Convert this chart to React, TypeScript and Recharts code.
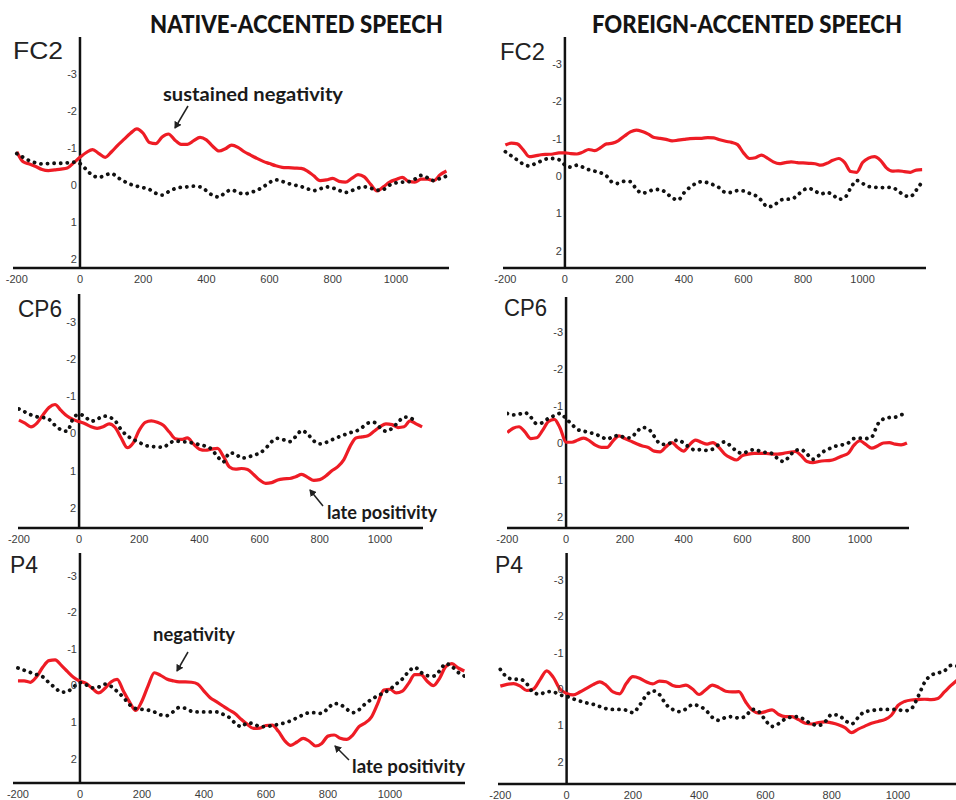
import { LineChart, Line, XAxis, YAxis, ReferenceLine, ReferenceDot } from "recharts";

// time points (ms), 20 ms apart
const times = [
    -200, -180, -160, -140, -120, -100, -80, -60, -40, -20,
    0, 20, 40, 60, 80, 100, 120, 140, 160, 180,
    200, 220, 240, 260, 280, 300, 320, 340, 360, 380,
    400, 420, 440, 460, 480, 500, 520, 540, 560, 580,
    600, 620, 640, 660, 680, 700, 720, 740, 760, 780,
    800, 820, 840, 860, 880, 900, 920, 940, 960, 980,
    1000, 1020, 1040, 1060, 1080, 1100, 1120, 1140, 1160, 1180,
    1200, 1220, 1240,
];

const xTicks = [-200, 0, 200, 400, 600, 800, 1000];
const yTicks = [-3, -2, -1, 0, 1, 2];

// FC2, native-accented
const fc2NativeRed = [
    -0.9, -0.63, -0.57, -0.5, -0.42, -0.39, -0.41, -0.43, -0.46, -0.6,
    -0.75, -0.88, -0.96, -0.85, -0.75, -0.9, -1.08, -1.24, -1.4, -1.52,
    -1.4, -1.15, -1.12, -1.3, -1.38, -1.22, -1.1, -1.1, -1.2, -1.29,
    -1.22, -1.05, -0.92, -0.98, -1.08, -1.02, -0.9, -0.81, -0.72, -0.64,
    -0.58, -0.52, -0.48, -0.47, -0.46, -0.45, -0.38, -0.25, -0.12, -0.14,
    -0.18, -0.1, -0.08, -0.18, -0.28, -0.22, -0.02, 0.16, 0.05, -0.08,
    -0.15, -0.21, -0.1, -0.08, -0.16, -0.16, -0.12, -0.28, -0.38,
];
const fc2NativeBlack = [
    -0.85, -0.75, -0.66, -0.6, -0.57, -0.58, -0.59, -0.59, -0.6, -0.62,
    -0.58, -0.42, -0.26, -0.21, -0.27, -0.31, -0.2, -0.1, -0.02, 0.03,
    0.07, 0.12, 0.22, 0.27, 0.18, 0.1, 0.06, 0.05, 0.03, 0.05,
    0.15, 0.28, 0.32, 0.2, 0.13, 0.2, 0.24, 0.2, 0.14, 0.05,
    -0.07, -0.14, -0.1, -0.04, 0.0, 0.04, 0.1, 0.15, 0.1, 0.05,
    0.08, 0.14, 0.2, 0.15, 0.08, 0.05, 0.08, 0.14, 0.12, 0.0,
    -0.06, -0.08, -0.09, -0.16, -0.26, -0.2, -0.12, -0.18, -0.24,
];

// FC2, foreign-accented
const fc2ForeignRed = [
    -0.83, -0.88, -0.86, -0.7, -0.52, -0.54, -0.57, -0.58, -0.59, -0.62,
    -0.62, -0.6, -0.59, -0.64, -0.71, -0.68, -0.76, -0.86, -0.88, -0.95,
    -1.07, -1.18, -1.23, -1.19, -1.12, -1.03, -1.01, -0.98, -0.94, -0.96,
    -0.98, -1.0, -1.01, -1.01, -1.03, -1.02, -0.97, -0.93, -0.9, -0.84,
    -0.62, -0.47, -0.49, -0.56, -0.48, -0.38, -0.33, -0.36, -0.38, -0.36,
    -0.35, -0.34, -0.33, -0.29, -0.34, -0.42, -0.47, -0.36, -0.12, -0.1,
    -0.36, -0.48, -0.52, -0.42, -0.22, -0.13, -0.14, -0.12, -0.1, -0.16,
    -0.17,
];
const fc2ForeignBlack = [
    -0.65, -0.54, -0.43, -0.32, -0.27, -0.33, -0.4, -0.46, -0.47, -0.44,
    -0.3, -0.24, -0.29, -0.24, -0.17, -0.13, -0.09, 0.0, 0.17, 0.2,
    0.14, 0.15, 0.35, 0.46, 0.42, 0.36, 0.36, 0.45, 0.58, 0.64,
    0.45, 0.3, 0.2, 0.15, 0.18, 0.24, 0.32, 0.44, 0.44, 0.39,
    0.4, 0.46, 0.52, 0.65, 0.82, 0.8, 0.66, 0.62, 0.62, 0.52,
    0.38, 0.33, 0.4, 0.48, 0.44, 0.5, 0.62, 0.58, 0.32, 0.12,
    0.2, 0.28, 0.3, 0.31, 0.3, 0.31, 0.4, 0.52, 0.55, 0.38,
    0.15,
];

// CP6, native-accented
const cp6NativeRed = [
    -0.36, -0.28, -0.18, -0.28, -0.5, -0.7, -0.78, -0.62, -0.47, -0.38,
    -0.32, -0.26, -0.18, -0.14, -0.18, -0.26, -0.16, 0.12, 0.38, 0.25,
    -0.09, -0.3, -0.34, -0.3, -0.22, -0.04, 0.14, 0.16, 0.12, 0.28,
    0.42, 0.45, 0.42, 0.4, 0.62, 0.9, 0.96, 0.94, 0.97, 1.1,
    1.25, 1.34, 1.32, 1.25, 1.22, 1.21, 1.16, 1.1, 1.18, 1.26,
    1.24, 1.14, 1.0, 0.89, 0.7, 0.36, 0.12, 0.09, 0.06, -0.06,
    -0.18, -0.26, -0.24, -0.16, -0.18, -0.34, -0.26, -0.18,
];
const cp6NativeBlack = [
    -0.66, -0.58, -0.5, -0.45, -0.43, -0.38, -0.22, -0.1, -0.06, -0.4,
    -0.52, -0.45, -0.33, -0.38, -0.47, -0.44, -0.34, -0.1, 0.06, 0.16,
    0.24, 0.32, 0.35, 0.36, 0.37, 0.26, 0.2, 0.22, 0.23, 0.26,
    0.3, 0.34, 0.42, 0.62, 0.76, 0.52, 0.55, 0.66, 0.64, 0.58,
    0.53, 0.4, 0.22, 0.13, 0.17, 0.22, 0.08, -0.08, 0.02, 0.2,
    0.28, 0.24, 0.17, 0.1, 0.04, -0.02, -0.06, -0.16, -0.28, -0.3,
    -0.16, -0.06, -0.14, -0.3, -0.44, -0.42, -0.3,
];

// CP6, foreign-accented
const cp6ForeignRed = [
    -0.28, -0.4, -0.44, -0.3, -0.12, -0.14, -0.34, -0.58, -0.64, -0.4,
    -0.02, -0.02, -0.08, -0.13, -0.06, 0.06, 0.12, 0.12, -0.06, -0.19,
    -0.12, -0.05, 0.02, 0.08, 0.12, 0.22, 0.24, 0.1, -0.01, 0.12,
    0.22, 0.05, -0.08, -0.02, 0.03, -0.01, 0.12, 0.3, 0.4, 0.46,
    0.34, 0.3, 0.28, 0.28, 0.28, 0.3, 0.3, 0.28, 0.25, 0.23,
    0.34, 0.5, 0.53, 0.5, 0.48, 0.47, 0.42, 0.35, 0.28, 0.06,
    -0.06, 0.04, 0.14, 0.08, 0.0, -0.01, 0.03, 0.05, 0.0,
];
const cp6ForeignBlack = [
    -0.8, -0.76, -0.78, -0.82, -0.7, -0.52, -0.55, -0.67, -0.74, -0.8,
    -0.66, -0.5, -0.36, -0.32, -0.28, -0.24, -0.17, -0.1, -0.18, -0.2,
    -0.15, -0.14, -0.3, -0.42, -0.38, -0.18, 0.02, 0.04, -0.02, -0.08,
    0.0, 0.12, 0.19, 0.18, 0.2, 0.16, 0.04, -0.03, 0.08, 0.22,
    0.28, 0.22, 0.18, 0.22, 0.26, 0.28, 0.42, 0.5, 0.36, 0.2,
    0.18, 0.3, 0.44, 0.34, 0.21, 0.14, 0.08, 0.05, 0.0, -0.12,
    -0.13, -0.12, -0.16, -0.5, -0.65, -0.69, -0.7, -0.76, -0.8,
];

// P4, native-accented
const p4NativeRed = [
    -0.13, -0.13, -0.09, -0.24, -0.5, -0.68, -0.7, -0.55, -0.38, -0.22,
    -0.12, -0.06, 0.08, 0.2, 0.08, -0.1, -0.17, 0.15, 0.45, 0.68,
    0.42, 0.0, -0.35, -0.28, -0.18, -0.13, -0.1, -0.1, -0.09, -0.04,
    0.15, 0.33, 0.44, 0.55, 0.66, 0.76, 0.92, 1.06, 1.17, 1.16,
    1.09, 1.08, 1.25, 1.5, 1.63, 1.54, 1.44, 1.52, 1.65, 1.58,
    1.38, 1.35, 1.44, 1.47, 1.35, 1.12, 1.02, 0.86, 0.5, 0.12,
    0.1, 0.2, 0.15, -0.06, -0.3, -0.3, -0.12, 0.0, -0.2, -0.52,
    -0.6, -0.48, -0.4,
];
const p4NativeBlack = [
    -0.48, -0.42, -0.36, -0.3, -0.24, -0.08, 0.06, 0.18, 0.16, 0.03,
    -0.08, -0.02, 0.06, 0.04, -0.04, 0.02, 0.16, 0.32, 0.52, 0.63,
    0.65, 0.67, 0.72, 0.8, 0.82, 0.72, 0.6, 0.62, 0.7, 0.72,
    0.72, 0.72, 0.72, 0.78, 0.86, 1.02, 1.12, 1.02, 1.04, 1.12,
    1.12, 1.09, 1.06, 1.02, 0.96, 0.88, 0.8, 0.74, 0.74, 0.76,
    0.62, 0.49, 0.52, 0.64, 0.74, 0.66, 0.5, 0.38, 0.28, 0.2,
    0.1, -0.04, -0.18, -0.38, -0.5, -0.36, -0.27, -0.26, -0.4, -0.6,
    -0.52, -0.36, -0.26,
];

// P4, foreign-accented
const p4ForeignRed = [
    -0.08, -0.13, -0.15, -0.08, 0.04, 0.0, -0.26, -0.5, -0.32, 0.0,
    0.12, 0.16, 0.08, -0.02, -0.12, -0.2, -0.1, 0.08, 0.13, -0.15,
    -0.34, -0.3, -0.2, -0.14, -0.22, -0.2, -0.1, -0.07, -0.11, 0.0,
    0.15, 0.02, -0.11, -0.04, 0.06, 0.08, 0.07, 0.35, 0.58, 0.66,
    0.62, 0.57, 0.7, 0.76, 0.76, 0.84, 0.94, 0.96, 0.92, 0.9,
    0.93, 0.98, 1.06, 1.2, 1.1, 1.02, 0.94, 0.89, 0.84, 0.72,
    0.45, 0.34, 0.3, 0.29, 0.28, 0.29, 0.26, 0.08, -0.1, -0.26,
];
const p4ForeignBlack = [
    -0.54, -0.33, -0.27, -0.27, -0.14, 0.1, 0.14, 0.07, 0.08, 0.16,
    0.2, 0.27, 0.33, 0.38, 0.42, 0.48, 0.54, 0.56, 0.56, 0.58,
    0.65, 0.45, 0.18, 0.05, 0.15, 0.42, 0.56, 0.62, 0.55, 0.43,
    0.47, 0.58, 0.78, 0.86, 0.78, 0.76, 0.8, 0.75, 0.56, 0.62,
    0.86, 1.03, 0.95, 0.82, 0.77, 0.76, 0.86, 0.96, 1.0, 0.9,
    0.7, 0.72, 0.86, 0.96, 0.78, 0.62, 0.6, 0.56, 0.56, 0.56,
    0.57, 0.6, 0.54, 0.22, -0.18, -0.38, -0.44, -0.5, -0.65, -0.63,
];

const RED = "#ee1c25";
const INK = "#111";
const TICK = "#3c3c3c";
const ML = 30;
const MT = 6;
const XH = 24;

// where each panel's axes sit on the page
const panels = [
    { key: "fc2n", red: fc2NativeRed, black: fc2NativeBlack, left: 13, right: 449, top: 37, bottom: 268, t: [-212, 1168], v: [-4.0, 2.24] },
    { key: "fc2f", red: fc2ForeignRed, black: fc2ForeignBlack, left: 503, right: 926, top: 37, bottom: 268, t: [-208, 1213], v: [-3.72, 2.46] },
    { key: "cp6n", red: cp6NativeRed, black: cp6NativeBlack, left: 18, right: 423, top: 294, bottom: 528, t: [-203, 1143], v: [-3.75, 2.54] },
    { key: "cp6f", red: cp6ForeignRed, black: cp6ForeignBlack, left: 507, right: 909, top: 297, bottom: 528, t: [-201, 1167], v: [-3.95, 2.3] },
    { key: "p4n", red: p4NativeRed, black: p4NativeBlack, left: 13, right: 465, top: 553, bottom: 783, t: [-216, 1242], v: [-3.62, 2.66] },
    { key: "p4f", red: p4ForeignRed, black: p4ForeignBlack, left: 498, right: 956, top: 553, bottom: 784, t: [-207, 1175], v: [-3.74, 2.61] },
];

type PanelDef = (typeof panels)[number];

function Panel({ p }: { p: PanelDef }) {
    const data = times.map((t, i) => ({ t, red: p.red[i], black: p.black[i] }));
    const width = p.right - p.left + ML * 2;
    const height = p.bottom - p.top + MT + XH;

    return (
        <div style={{ position: "absolute", left: p.left - ML, top: p.top - MT }}>
            <LineChart
                width={width}
                height={height}
                data={data}
                margin={{ top: MT, right: ML, bottom: 0, left: ML }}
            >
                <XAxis
                    dataKey="t"
                    type="number"
                    domain={p.t}
                    allowDataOverflow
                    ticks={xTicks}
                    interval={0}
                    tickLine={false}
                    axisLine={{ stroke: INK, strokeWidth: 2.5 }}
                    tick={{ fontSize: 11, fill: TICK, stroke: "none", fontFamily: "Liberation Sans, Arial, sans-serif" }}
                    tickMargin={1}
                    height={XH}
                />
                <YAxis hide type="number" domain={p.v} allowDataOverflow reversed />
                <ReferenceLine x={0} stroke={INK} strokeWidth={2.5} />
                {yTicks.map((v) => (
                    <ReferenceDot
                        key={v}
                        x={0}
                        y={v}
                        r={0}
                        fill="none"
                        stroke="none"
                        label={{
                            value: String(v),
                            position: "left",
                            offset: 3,
                            fontSize: 11,
                            fill: TICK,
                            stroke: "none",
                            fontFamily: "Liberation Sans, Arial, sans-serif",
                        }}
                    />
                ))}
                <Line
                    type="monotone"
                    dataKey="red"
                    stroke={RED}
                    strokeWidth={3.2}
                    dot={false}
                    isAnimationActive={false}
                />
                <Line
                    type="monotone"
                    dataKey="black"
                    stroke={INK}
                    strokeWidth={3.8}
                    strokeDasharray="0.1 6.5"
                    strokeLinecap="round"
                    dot={false}
                    isAnimationActive={false}
                />
            </LineChart>
        </div>
    );
}

const channelFont = "Liberation Sans, Arial, sans-serif";
const boldFont = "Lato, 'Open Sans', sans-serif";

export default function App() {
    return (
        <div
            style={{
                position: "absolute",
                left: 0,
                top: 0,
                width: 956,
                height: 800,
                overflow: "hidden",
                background: "#fff",
            }}
        >
            {panels.map((p) => (
                <Panel key={p.key} p={p} />
            ))}

            {/* titles, channel names, annotations */}
            <svg
                width={956}
                height={800}
                style={{ position: "absolute", left: 0, top: 0, pointerEvents: "none" }}
            >
                <defs>
                    <marker id="head" markerWidth="8" markerHeight="8" refX="6" refY="4" orient="auto" markerUnits="userSpaceOnUse">
                        <path d="M0,0 L7,4 L0,8 z" fill="#222" />
                    </marker>
                </defs>

                <g fontFamily={boldFont} fontWeight={900} fill="#141414">
                    <text x={150} y={33} fontSize={24} textLength={293} lengthAdjust="spacingAndGlyphs">
                        NATIVE-ACCENTED SPEECH
                    </text>
                    <text x={592} y={33} fontSize={24} textLength={310} lengthAdjust="spacingAndGlyphs">
                        FOREIGN-ACCENTED SPEECH
                    </text>
                </g>

                <g fontFamily={channelFont} fill="#222" fontSize={24}>
                    <text x={13} y={59} textLength={50} lengthAdjust="spacingAndGlyphs">FC2</text>
                    <text x={500} y={60} textLength={45} lengthAdjust="spacingAndGlyphs">FC2</text>
                    <text x={18} y={317} textLength={44} lengthAdjust="spacingAndGlyphs">CP6</text>
                    <text x={504} y={316} textLength={43} lengthAdjust="spacingAndGlyphs">CP6</text>
                    <text x={10} y={573} textLength={28} lengthAdjust="spacingAndGlyphs">P4</text>
                    <text x={495} y={573} textLength={28} lengthAdjust="spacingAndGlyphs">P4</text>
                </g>

                <g fontFamily={boldFont} fontWeight={700} fill="#1a1a1a" fontSize={18}>
                    <text x={163} y={101} textLength={180} lengthAdjust="spacingAndGlyphs">sustained negativity</text>
                    <text x={327} y={519} textLength={110} lengthAdjust="spacingAndGlyphs">late positivity</text>
                    <text x={153} y={641} textLength={82} lengthAdjust="spacingAndGlyphs">negativity</text>
                    <text x={352} y={773} textLength={113} lengthAdjust="spacingAndGlyphs">late positivity</text>
                </g>

                <g stroke="#222" strokeWidth={1.5} markerEnd="url(#head)">
                    <line x1={188} y1={106} x2={175} y2={128} />
                    <line x1={323} y1={506} x2={310} y2={490} />
                    <line x1={188} y1={652} x2={177} y2={671} />
                    <line x1={349} y1={760} x2={335} y2={746} />
                </g>
            </svg>
        </div>
    );
}
